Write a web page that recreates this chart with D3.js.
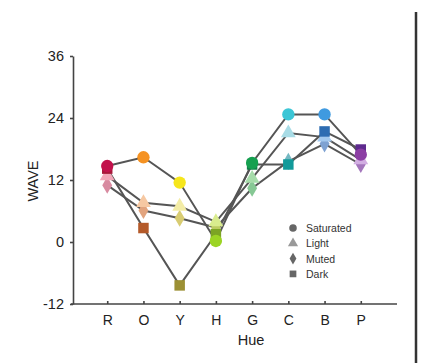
<!DOCTYPE html>
<html lang="en">
  <head>
    <meta charset="UTF-8" />
    <title>WAVE by Hue</title>
    <script src="https://d3js.org/d3.v7.min.js"></script>
    <style>
      body {
        margin: 0;
        background: #fff;
        font-family: "Liberation Sans", Arial, sans-serif;
      }
      .axis path,
      .axis line {
        stroke: #444;
        stroke-width: 1.6px;
      }
      .axis text {
        fill: #222;
      }
    </style>
  </head>
  <body>
    <svg width="430" height="363"></svg>

    <script>
      const hues = ["R", "O", "Y", "H", "G", "C", "B", "P"];
      const styles = ["Saturated", "Light", "Muted", "Dark"];
      const yTicks = [-12, 0, 12, 24, 36];

      const saturated = [14.7, 16.4, 11.5, 0.2, 15.3, 24.7, 24.7, 16.9];
      const light = [12.8, 7.6, 6.9, 3.9, 12.3, 21.1, 20.3, 15.9];
      const muted = [11.0, 6.1, 4.6, 2.8, 10.4, 15.6, 19.0, 15.0];
      const dark = [14.2, 2.7, -8.4, 1.5, 15.0, 15.0, 21.4, 17.9];

      const colors = {
        Saturated: ["#c2124c", "#f59222", "#f6e61c", "#9cd424", "#16a050", "#3cc6d6", "#3f9ae0", "#8c3ea4"],
        Light: ["#f2a6b8", "#f6c8a2", "#f3eca6", "#d9ec8e", "#a6dcaa", "#a8dce6", "#a2c8ee", "#d2aee2"],
        Muted: ["#d88aa0", "#e2a47e", "#d8cc72", "#bccc62", "#86c894", "#74b8c2", "#7ea2d2", "#a476bc"],
        Dark: ["#a8183a", "#b45a2a", "#9c9034", "#7ca424", "#128048", "#129a9a", "#2d6cb2", "#5e2a8e"],
      };

      const series = [
        {name: "Muted", values: muted, shape: d3.symbolDiamond, size: 85},
        {name: "Light", values: light, shape: d3.symbolTriangle, size: 95},
        {name: "Dark", values: dark, shape: d3.symbolSquare, size: 110},
        {name: "Saturated", values: saturated, shape: d3.symbolCircle, size: 120},
      ];
      const shapeOf = {Saturated: d3.symbolCircle, Light: d3.symbolTriangle, Muted: d3.symbolDiamond, Dark: d3.symbolSquare};

      const svg = d3.select("svg");

      const x = d3.scalePoint().domain(hues).range([71, 397]).padding(1);
      const y = d3.scaleLinear().domain([-12, 36]).range([304, 56]);

      // frame line on the right
      svg.append("line")
        .attr("x1", 416).attr("x2", 416)
        .attr("y1", 12).attr("y2", 363)
        .attr("stroke", "#333").attr("stroke-width", 2.5);

      // axes
      const xAxis = svg.append("g")
        .attr("class", "axis")
        .attr("transform", "translate(0,304)")
        .call(d3.axisBottom(x).tickSize(-3).tickSizeOuter(0).tickPadding(11));
      xAxis.select(".domain").attr("d", "M71,0H397");
      xAxis.selectAll("text").attr("font-size", 14);

      const yAxis = svg.append("g")
        .attr("class", "axis")
        .attr("transform", "translate(73,0)")
        .call(d3.axisLeft(y).tickValues(yTicks).tickFormat((d) => String(d)).tickSize(3).tickSizeOuter(0).tickPadding(6));
      yAxis.selectAll("text").attr("font-size", 14.5);

      svg.append("text")
        .attr("transform", "translate(38,181) rotate(-90)")
        .attr("text-anchor", "middle")
        .attr("font-size", 14.5)
        .attr("fill", "#222")
        .text("WAVE");

      svg.append("text")
        .attr("x", 251).attr("y", 345)
        .attr("text-anchor", "middle")
        .attr("font-size", 14.5)
        .attr("fill", "#222")
        .text("Hue");

      const line = d3.line()
        .x((d, i) => x(hues[i]))
        .y((d) => y(d));

      // connecting lines
      series.forEach((s) => {
        svg.append("path")
          .datum(s.values)
          .attr("fill", "none")
          .attr("stroke", "#555")
          .attr("stroke-width", 2)
          .attr("d", line);
      });

      // markers
      series.forEach((s) => {
        svg.append("g")
          .selectAll("path")
          .data(s.values)
          .join("path")
          .attr("transform", (d, i) => `translate(${x(hues[i])},${y(d)})`)
          .attr("d", d3.symbol().type(s.shape).size(s.size))
          .attr("fill", (d, i) => colors[s.name][i]);
      });

      // legend
      const legend = svg.append("g").attr("transform", "translate(293,228)");
      styles.forEach((name, i) => {
        const row = legend.append("g").attr("transform", `translate(0,${i * 15.3})`);
        row.append("path")
          .attr("d", d3.symbol().type(shapeOf[name]).size(name === "Muted" ? 40 : 45))
          .attr("fill", name === "Light" ? "#999" : "#666");
        row.append("text")
          .attr("x", 13).attr("y", 4)
          .attr("font-size", 10.5)
          .attr("fill", "#333")
          .text(name);
      });
    </script>
  </body>
</html>
